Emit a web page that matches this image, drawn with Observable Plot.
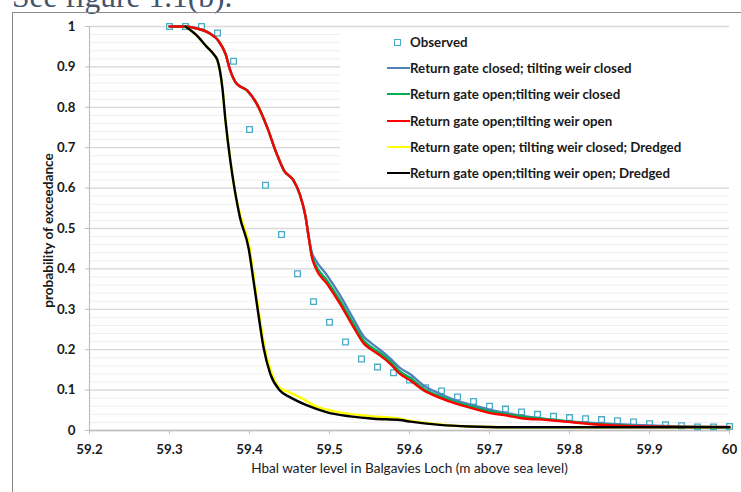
<!DOCTYPE html>
<html>
<head>
<meta charset="utf-8">
<script src="https://cdn.jsdelivr.net/npm/d3@7"></script>
<script src="https://cdn.jsdelivr.net/npm/@observablehq/plot@0.6"></script>
<style>
  html, body { margin: 0; padding: 0; background: #fff; }
  #wrap { position: relative; width: 741px; height: 492px; overflow: hidden; background: #fff; }
  #heading { position: absolute; left: 12px; top: -19px; font-family: "Liberation Serif", serif; font-size: 31.5px; line-height: 32px; color: #44546a; white-space: nowrap; }
  #frame { position: absolute; left: 12px; top: 12px; width: 900px; height: 700px; border-left: 1px solid #8a8a8a; border-top: 1px solid #8a8a8a; }
  #chart { position: absolute; left: 0; top: 0; }
  #legend { position: absolute; left: 340px; top: 28px; width: 389px; height: 157px; background: #fff; font-family: Lato, sans-serif; font-weight: bold; font-size: 13.3px; color: #1a1a1a; }
  .row { position: absolute; left: 0; height: 16px; width: 389px; }
  .row .lbl { position: absolute; left: 70px; top: 0; line-height: 16px; white-space: nowrap; }
  .row .swl { position: absolute; left: 47px; top: 7px; width: 23px; height: 2px; }
  .row .sq { position: absolute; left: 54px; top: 4.5px; width: 5px; height: 5px; border: 1.2px solid #4bacc6; background: #fff; }
</style>
</head>
<body>
<div id="wrap">
  <div id="heading"></div>
  <div id="frame"></div>
  <div id="chart"></div>
  <div id="legend"></div>
</div>
<script>
// ---------- data ----------
const headingText = "See figure 1.1(b).";
const xTitle = "Hbal water level in Balgavies Loch (m above sea level)";
const yTitle = "probability of exceedance";

const xTicks = [59.2, 59.3, 59.4, 59.5, 59.6, 59.7, 59.8, 59.9, 60.0];
const xTickLabels = ["59.2", "59.3", "59.4", "59.5", "59.6", "59.7", "59.8", "59.9", "60"];
const yTicks = [0, 0.1, 0.2, 0.3, 0.4, 0.5, 0.6, 0.7, 0.8, 0.9, 1];
const yTickLabels = ["0", "0.1", "0.2", "0.3", "0.4", "0.5", "0.6", "0.7", "0.8", "0.9", "1"];

const seriesNames = [
  "Observed",
  "Return gate closed; tilting weir closed",
  "Return gate open;tilting weir closed",
  "Return gate open;tilting weir open",
  "Return gate open; tilting weir closed; Dredged",
  "Return gate open;tilting weir open; Dredged"
];
const seriesColors = ["#4bacc6", "#4f81bd", "#00b050", "#ff0000", "#ffff00", "#000000"];

// Observed
const obsLevel = [59.30, 59.32, 59.34, 59.36, 59.38, 59.40, 59.42, 59.44, 59.46, 59.48, 59.50, 59.52, 59.54, 59.56, 59.58, 59.60, 59.62, 59.64, 59.66, 59.68, 59.70, 59.72, 59.74, 59.76, 59.78, 59.80, 59.82, 59.84, 59.86, 59.88, 59.90, 59.92, 59.94, 59.96, 59.98, 60.00];
const obsProb  = [1.000, 1.000, 1.000, 0.984, 0.914, 0.745, 0.607, 0.485, 0.388, 0.319, 0.268, 0.219, 0.177, 0.157, 0.143, 0.125, 0.106, 0.098, 0.083, 0.072, 0.060, 0.053, 0.046, 0.040, 0.035, 0.032, 0.029, 0.027, 0.024, 0.021, 0.017, 0.014, 0.012, 0.009, 0.009, 0.010];

// Return gate closed; tilting weir closed (blue)
const gcwcLevel = [59.30, 59.32, 59.33, 59.351, 59.361, 59.370, 59.376, 59.384, 59.397, 59.409, 59.422, 59.434, 59.443, 59.455, 59.463, 59.470, 59.474, 59.478, 59.482, 59.497, 59.513, 59.530, 59.543, 59.551, 59.563, 59.576, 59.588, 59.601, 59.618, 59.638, 59.659, 59.680, 59.701, 59.730, 59.759, 59.797, 59.834, 59.880, 59.918, 59.960, 60.000];
const gcwcProb  = [1.000, 1.000, 0.997, 0.982, 0.965, 0.932, 0.891, 0.858, 0.842, 0.809, 0.751, 0.685, 0.644, 0.619, 0.584, 0.530, 0.480, 0.440, 0.424, 0.384, 0.335, 0.276, 0.232, 0.218, 0.200, 0.178, 0.155, 0.139, 0.111, 0.091, 0.074, 0.062, 0.051, 0.040, 0.031, 0.023, 0.018, 0.014, 0.011, 0.009, 0.008];

// Return gate open; tilting weir closed (green)
const gowcLevel = [59.30, 59.32, 59.33, 59.351, 59.361, 59.370, 59.376, 59.384, 59.397, 59.409, 59.422, 59.434, 59.443, 59.455, 59.463, 59.470, 59.474, 59.478, 59.482, 59.497, 59.513, 59.530, 59.543, 59.551, 59.563, 59.576, 59.588, 59.601, 59.618, 59.638, 59.659, 59.680, 59.701, 59.722, 59.745, 59.772, 59.801, 59.834, 59.863, 59.897, 59.950, 60.000];
const gowcProb  = [1.000, 1.000, 0.997, 0.982, 0.965, 0.932, 0.891, 0.858, 0.842, 0.809, 0.751, 0.685, 0.644, 0.619, 0.584, 0.530, 0.479, 0.434, 0.412, 0.371, 0.322, 0.264, 0.222, 0.208, 0.192, 0.171, 0.146, 0.130, 0.103, 0.085, 0.069, 0.058, 0.047, 0.040, 0.033, 0.028, 0.022, 0.016, 0.013, 0.010, 0.009, 0.008];

// Return gate open; tilting weir open (red)
const gowoLevel = [59.30, 59.32, 59.33, 59.351, 59.361, 59.370, 59.376, 59.384, 59.397, 59.409, 59.422, 59.434, 59.443, 59.455, 59.463, 59.470, 59.474, 59.478, 59.482, 59.497, 59.513, 59.530, 59.543, 59.551, 59.563, 59.576, 59.588, 59.601, 59.618, 59.638, 59.659, 59.680, 59.701, 59.722, 59.738, 59.772, 59.801, 59.834, 59.863, 59.897, 59.950, 60.000];
const gowoProb  = [1.000, 1.000, 0.997, 0.982, 0.965, 0.932, 0.891, 0.858, 0.842, 0.809, 0.751, 0.685, 0.644, 0.619, 0.584, 0.530, 0.478, 0.429, 0.405, 0.363, 0.314, 0.256, 0.215, 0.202, 0.186, 0.165, 0.140, 0.124, 0.099, 0.081, 0.066, 0.054, 0.043, 0.037, 0.031, 0.026, 0.021, 0.015, 0.012, 0.010, 0.009, 0.009];

// Return gate open; tilting weir closed; Dredged (yellow)
const gowcdLevel = [59.32, 59.334, 59.347, 59.355, 59.360, 59.363, 59.366, 59.370, 59.376, 59.382, 59.389, 59.400, 59.406, 59.412, 59.419, 59.428, 59.440, 59.447, 59.463, 59.484, 59.513, 59.547, 59.588, 59.601, 59.638, 59.675, 59.720, 59.800, 59.900, 60.000];
const gowcdProb  = [1.000, 0.978, 0.949, 0.932, 0.916, 0.891, 0.850, 0.767, 0.668, 0.590, 0.530, 0.454, 0.371, 0.289, 0.206, 0.140, 0.102, 0.097, 0.082, 0.059, 0.045, 0.036, 0.029, 0.024, 0.015, 0.010, 0.008, 0.008, 0.008, 0.008];

// Return gate open; tilting weir open; Dredged (black)
const gowodLevel = [59.32, 59.334, 59.347, 59.355, 59.360, 59.363, 59.366, 59.370, 59.376, 59.382, 59.388, 59.399, 59.405, 59.411, 59.4175, 59.426, 59.438, 59.451, 59.472, 59.497, 59.526, 59.555, 59.588, 59.601, 59.638, 59.675, 59.720, 59.800, 59.900, 60.000];
const gowodProb  = [1.000, 0.978, 0.949, 0.932, 0.916, 0.891, 0.850, 0.767, 0.668, 0.590, 0.528, 0.450, 0.371, 0.289, 0.206, 0.140, 0.099, 0.082, 0.062, 0.045, 0.035, 0.029, 0.026, 0.022, 0.014, 0.010, 0.008, 0.008, 0.008, 0.008];

// ---------- build ----------
const toRows = (lv, pr) => lv.map((x, i) => ({x, y: pr[i]}));
const obs = toRows(obsLevel, obsProb);
const lines = [
  toRows(gcwcLevel, gcwcProb),
  toRows(gowcLevel, gowcProb),
  toRows(gowoLevel, gowoProb),
  toRows(gowcdLevel, gowcdProb),
  toRows(gowodLevel, gowodProb)
];
const minorY = d3.range(0, 1.0001, 0.02);

document.getElementById("heading").textContent = headingText;

const chart = Plot.plot({
  width: 741,
  height: 492,
  marginLeft: 89,
  marginRight: 12,
  marginTop: 26,
  marginBottom: 62,
  style: {fontFamily: "Lato, sans-serif", fontSize: "13px", background: "transparent", color: "#1a1a1a"},
  x: {domain: [59.2, 60]},
  y: {domain: [0, 1]},
  marks: [
    Plot.gridY(minorY, {stroke: "#efefef", strokeOpacity: 1, strokeWidth: 1}),
    Plot.gridY(yTicks, {stroke: "#d9d9d9", strokeOpacity: 1, strokeWidth: 1.3}),
    Plot.ruleX([59.2], {stroke: "#bfbfbf", strokeWidth: 1.2}),
    Plot.ruleY([0], {stroke: "#bfbfbf", strokeWidth: 1.3}),
    Plot.axisX(xTicks, {
      tickSize: 4, tickPadding: 10, stroke: "#bfbfbf", fill: "#1a1a1a",
      fontWeight: "bold", fontSize: 13.3, label: null,
      tickFormat: d => xTickLabels[xTicks.indexOf(d)]
    }),
    Plot.axisY(yTicks, {
      tickSize: 4, tickPadding: 10, stroke: "#bfbfbf", fill: "#1a1a1a",
      fontWeight: "bold", fontSize: 13.3, label: null,
      tickFormat: d => yTickLabels[yTicks.indexOf(d)]
    }),
    Plot.dot(obs, {x: "x", y: "y", symbol: "square", r: 3.2, stroke: seriesColors[0], fill: "white", strokeWidth: 1.3}),
    ...lines.map((data, i) => Plot.line(data, {
      x: "x", y: "y", stroke: seriesColors[i + 1], strokeWidth: 2.4, curve: "monotone-x"
    })),
    Plot.text([xTitle], {
      text: d => d, frameAnchor: "bottom", textAnchor: "middle", lineAnchor: "middle",
      dy: 38, fontSize: 13.6, fill: "#1a1a1a"
    }),
    Plot.text([yTitle], {
      text: d => d, frameAnchor: "left", textAnchor: "middle", lineAnchor: "middle",
      rotate: -90, dx: -41, dy: 2, fontSize: 13.6, fontWeight: "bold", fill: "#1a1a1a"
    })
  ]
});
document.getElementById("chart").appendChild(chart);

// ---------- legend ----------
const legend = document.getElementById("legend");
const rowCenters = [14, 40.3, 66.3, 93, 119.3, 144.7];
seriesNames.forEach((name, i) => {
  const row = document.createElement("div");
  row.className = "row";
  row.style.top = (rowCenters[i] - 8) + "px";
  const sw = document.createElement("span");
  if (i === 0) {
    sw.className = "sq";
  } else {
    sw.className = "swl";
    sw.style.background = seriesColors[i];
  }
  const lbl = document.createElement("span");
  lbl.className = "lbl";
  lbl.textContent = name;
  row.appendChild(sw);
  row.appendChild(lbl);
  legend.appendChild(row);
});
</script>
</body>
</html>
